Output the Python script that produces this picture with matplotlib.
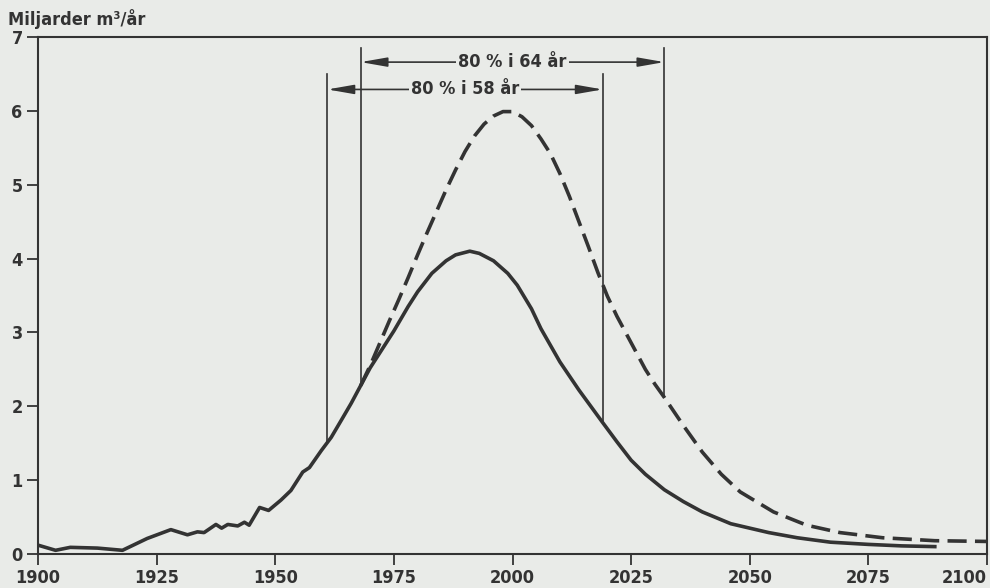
import numpy as np
import matplotlib.pyplot as plt

# Historisk och beräknad produktion, miljarder m3 per år
hist_years = [1900, 1903.7, 1906.8, 1912.5, 1917.8, 1923, 1928, 1931.5, 1933.6, 1935,
              1937.5, 1938.7, 1940, 1942.1, 1943.5, 1944.5, 1946.7, 1948.6, 1951.2,
              1953.3, 1955.8, 1957.2, 1959.7, 1961.8]
hist_vals = [0.12, 0.05, 0.09, 0.08, 0.05, 0.21, 0.33, 0.26, 0.30, 0.29,
             0.40, 0.35, 0.40, 0.38, 0.43, 0.39, 0.63, 0.59, 0.73,
             0.86, 1.11, 1.17, 1.40, 1.58]

low_years = [1964, 1966, 1968, 1970, 1973, 1975, 1978, 1980, 1983, 1986, 1988, 1991,
             1993, 1996, 1999, 2001, 2004, 2006, 2010, 2014, 2019, 2022, 2025, 2028,
             2032, 2036, 2040, 2046, 2054, 2060, 2067, 2075, 2082, 2089]
low_vals = [1.82, 2.04, 2.28, 2.52, 2.82, 3.02, 3.35, 3.55, 3.80, 3.97, 4.05, 4.10,
            4.07, 3.97, 3.80, 3.64, 3.32, 3.05, 2.60, 2.22, 1.78, 1.52, 1.27, 1.08,
            0.87, 0.71, 0.57, 0.41, 0.29, 0.22, 0.16, 0.13, 0.11, 0.10]

high_years = [1968, 1970, 1972, 1974, 1976, 1978, 1980, 1982, 1984, 1986, 1988, 1990,
              1992, 1994, 1996, 1998, 2000, 2002, 2004, 2006, 2008, 2010, 2012, 2014,
              2016, 2018, 2020, 2022, 2024, 2026, 2028, 2030, 2032, 2036, 2040, 2044,
              2048, 2055, 2062, 2069, 2078, 2089, 2100]
high_vals = [2.28, 2.55, 2.85, 3.15, 3.44, 3.74, 4.05, 4.35, 4.64, 4.93, 5.20, 5.45,
             5.66, 5.82, 5.93, 5.99, 5.99, 5.92, 5.80, 5.62, 5.42, 5.15, 4.84, 4.50,
             4.16, 3.81, 3.49, 3.22, 2.98, 2.74, 2.50, 2.30, 2.12, 1.74, 1.38, 1.08,
             0.84, 0.57, 0.39, 0.29, 0.22, 0.18, 0.17]

# 80 %-intervall: (start, slut, text)
span_low = (1961, 2019, '80 % i 58 år')
span_high = (1968, 2032, '80 % i 64 år')

bg = '#e9ebe8'
ink = '#333333'

plt.rcParams['font.family'] = ['DejaVu Sans']
plt.rcParams['font.stretch'] = 'condensed'
plt.rcParams['font.weight'] = 'bold'

fig = plt.figure(figsize=(9.9, 5.88), dpi=100, facecolor=bg)
ax = fig.add_axes([38 / 990, 1 - 554 / 588, (987 - 38) / 990, (554 - 37) / 588])
ax.set_facecolor(bg)

low_x = hist_years + low_years
low_y = hist_vals + low_vals
ax.plot(low_x, low_y, color=ink, lw=2.6, solid_joinstyle='round', zorder=3)
ax.plot(high_years, high_vals, color=ink, lw=2.6, dashes=(5.3, 2.3), zorder=3)

# vertikala markeringar och pilar
for (x0, x1, label), curve, top, ya in [
        (span_low, (low_x, low_y), 6.5, 6.29),
        (span_high, (high_years, high_vals), 6.85, 6.66)]:
    lx, ly = curve
    y_start = np.interp(x0, low_x, low_y)
    y_end = np.interp(x1, lx, ly)
    ax.plot([x0, x0], [y_start, top], color=ink, lw=1.2, zorder=2)
    ax.plot([x1, x1], [y_end, top], color=ink, lw=1.2, zorder=2)
    ax.annotate('', xy=(x0, ya), xytext=(x1, ya),
                arrowprops=dict(arrowstyle='<|-|>,head_length=1.6,head_width=0.28',
                                color=ink, lw=1.2, shrinkA=0, shrinkB=0))
    ax.text((x0 + x1) / 2, ya, label, ha='center', va='center', fontsize=13,
            color=ink, zorder=4,
            bbox=dict(facecolor=bg, edgecolor='none', pad=1.5))

ax.set_xlim(1900, 2100)
ax.set_ylim(0, 7)
ax.set_xticks(np.arange(1900, 2101, 25))
ax.set_yticks(np.arange(0, 8, 1))
ax.tick_params(direction='out', length=8, width=1.3, colors=ink,
               labelsize=13, pad=3)
ax.get_xticklabels()[-1].set_horizontalalignment('right')
for s in ax.spines.values():
    s.set_color(ink)
    s.set_linewidth(1.5)

fig.text(8 / 990, 1 - 19 / 588, 'Miljarder m³/år', ha='left', va='center',
         fontsize=13, color=ink)

fig.savefig('out.png', dpi=100, facecolor=bg)
